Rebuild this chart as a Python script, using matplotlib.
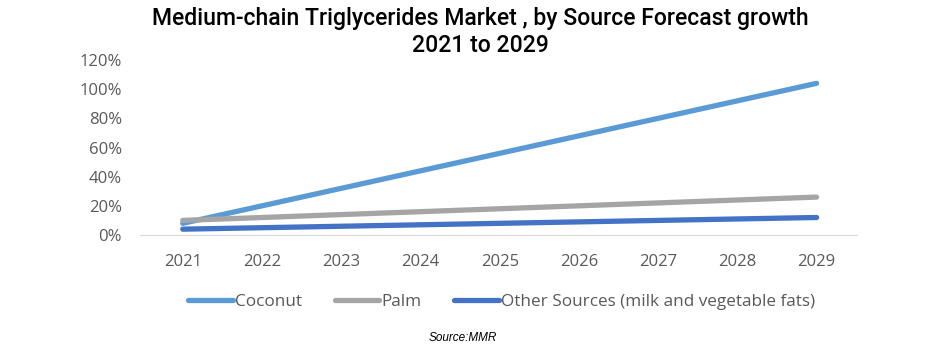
import matplotlib.pyplot as plt
from matplotlib.ticker import FuncFormatter

years = [2021, 2022, 2023, 2024, 2025, 2026, 2027, 2028, 2029]
coconut = [8, 20, 32, 44, 56, 68, 80, 92, 104]
palm = [10, 12, 14, 16, 18, 20, 22, 24, 26]
other = [4, 5, 6, 7, 8, 9, 10, 11, 12]

W, H = 941, 354
fig = plt.figure(figsize=(W / 100, H / 100), dpi=100)
ax = fig.add_axes([140 / W, 1 - 235 / H, (857 - 140) / W, (235 - 60) / H])

lw = 3.8
ax.plot(years, coconut, color='#5b9bd5', lw=lw, solid_capstyle='round', label='Coconut')
ax.plot(years, palm, color='#a5a5a5', lw=lw, solid_capstyle='round', label='Palm')
ax.plot(years, other, color='#4472c4', lw=lw, solid_capstyle='round',
        label='Other Sources (milk and vegetable fats)')

ax.set_xlim(2020.46, 2029.51)
ax.set_ylim(0, 120)
ax.set_yticks(range(0, 121, 20))
ax.set_xticks(years)
ax.yaxis.set_major_formatter(FuncFormatter(lambda v, p: f'{v:.0f}%'))
for s in ['top', 'right', 'left']:
    ax.spines[s].set_visible(False)
ax.spines['bottom'].set_color('#d9d9d9')
ax.tick_params(length=0, labelsize=12, colors='#595959')
ax.tick_params(axis='y', pad=13)
ax.tick_params(axis='x', pad=14)
for t in ax.get_xticklabels() + ax.get_yticklabels():
    t.set_fontfamily('Open Sans')

fig.text(480 / W, 1 - 19 / H, 'Medium-chain Triglycerides Market , by Source Forecast growth',
         ha='center', va='center', fontsize=16.6, fontfamily='Roboto', fontweight='medium')
fig.text(480 / W, 1 - 46 / H, '2021 to 2029',
         ha='center', va='center', fontsize=16.6, fontfamily='Roboto', fontweight='medium')

leg = fig.legend(loc='center', bbox_to_anchor=(502 / W, 1 - 302 / H), ncol=3, frameon=False,
                 prop={'family': 'Open Sans', 'size': 12.3}, handlelength=2.6,
                 handletextpad=0.15, columnspacing=1.9)
for t in leg.get_texts():
    t.set_color('#595959')

fig.text(463 / W, 1 - 338 / H, 'Source:MMR', ha='center', va='center', fontsize=8.5,
         style='italic', fontfamily='Liberation Sans')

fig.savefig('out.png', dpi=100)
